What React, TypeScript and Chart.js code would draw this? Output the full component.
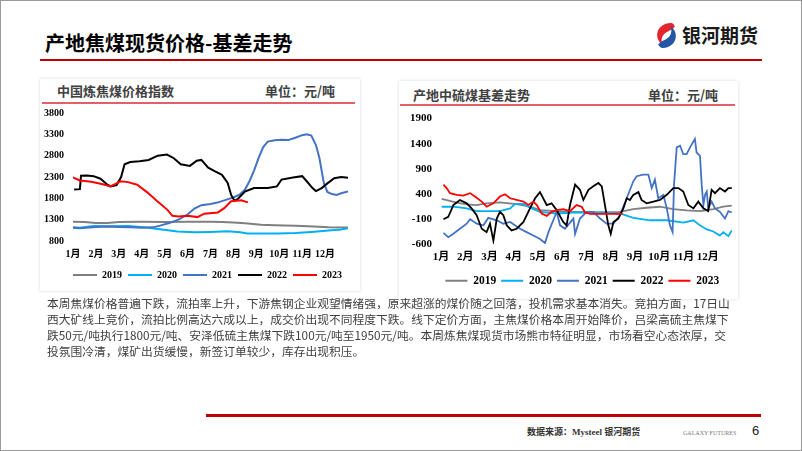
import React, { useEffect, useRef } from "react";
import { Chart, registerables } from "chart.js";

Chart.register(...registerables);

type P = [number, number];

// ---------- data ----------
const yearLabels = ["2019", "2020", "2021", "2022", "2023"];
const monthNumbers = [1, 2, 3, 4, 5, 6, 7, 8, 9, 10, 11, 12];

// 中国炼焦煤价格指数 (x = month position, y = 元/吨)
const idx2019: P[] = [[1,1250],[1.5,1245],[2,1222],[2.5,1222],[3,1248],[4,1252],[5,1245],[6,1250],[7,1250],[7.5,1245],[8,1235],[8.5,1215],[9.2,1180],[9.8,1168],[10.7,1155],[11.5,1138],[12.15,1122],[13,1115]];
const idx2020: P[] = [[1,1122],[1.3,1110],[1.9,1150],[2.5,1148],[3.4,1152],[4.1,1122],[4.8,1075],[5.56,1020],[6.3,1005],[7,1012],[7.75,1028],[8.3,1005],[8.6,976],[9.95,976],[10.7,990],[11.4,1012],[12.15,1044],[12.7,1068],[13,1100]];
const idx2021: P[] = [[1,1110],[1.3,1100],[2,1130],[2.5,1140],[3,1130],[3.5,1120],[4,1110],[4.5,1120],[4.8,1160],[5.2,1220],[5.6,1300],[6,1420],[6.3,1560],[6.6,1640],[7,1665],[7.3,1700],[7.7,1770],[8,1820],[8.3,1900],[8.5,2000],[8.7,2200],[8.9,2450],[9.1,2750],[9.3,3000],[9.5,3130],[9.8,3160],[10.1,3175],[10.4,3165],[10.7,3220],[11,3280],[11.2,3300],[11.4,3270],[11.6,3050],[11.75,2750],[11.85,2450],[11.95,2150],[12.1,1950],[12.3,1900],[12.5,1880],[12.7,1920],[13,1960]];
const idx2022: P[] = [[1.05,2005],[1.3,2015],[1.35,2330],[1.6,2335],[1.9,2320],[2.2,2260],[2.5,2120],[2.65,2080],[2.9,2110],[3.1,2300],[3.25,2600],[3.5,2650],[3.9,2670],[4.3,2700],[4.7,2800],[5.1,2825],[5.4,2740],[5.7,2600],[6.1,2560],[6.4,2680],[6.6,2700],[6.9,2520],[7.2,2430],[7.5,2350],[7.75,2160],[7.9,1880],[8.05,1740],[8.2,1790],[8.5,1960],[8.9,2040],[9.5,2040],[9.9,2080],[10.1,2240],[10.6,2290],[11,2320],[11.2,2200],[11.45,2040],[11.6,1970],[11.85,2040],[12.1,2150],[12.4,2270],[12.7,2300],[13,2280]];
const idx2023: P[] = [[1,2290],[1.3,2220],[1.8,2190],[2.3,2130],[2.63,2080],[2.9,2150],[3.07,2200],[3.4,2180],[3.8,2120],[4.24,1940],[4.68,1730],[5.12,1530],[5.34,1390],[5.6,1375],[6,1390],[6.43,1360],[6.73,1440],[7.32,1470],[7.6,1570],[7.9,1730],[8.34,1755],[8.63,1705]];

// 产地中硫煤基差走势 (x = month position, y = 元/吨)
const basis2019: P[] = [[1.03,299],[1.65,224],[2.06,191],[2.47,177],[2.88,211],[3.43,231],[4.12,197],[4.67,143],[5.08,76],[5.77,55],[6.46,42],[7.14,28],[7.83,28],[8.38,42],[8.93,96],[9.48,123],[10.03,143],[10.58,96],[11.13,69],[11.68,55],[12.23,96],[12.64,143],[12.99,164]];
const basis2020: P[] = [[1.03,143],[1.51,143],[2.06,110],[2.47,55],[3.43,55],[3.85,110],[4.05,197],[4.4,197],[4.67,123],[5.08,42],[5.77,8],[6.46,28],[7.14,28],[7.83,28],[8.38,8],[8.93,-80],[9.62,-127],[10.31,-127],[11,-174],[11.41,-127],[11.68,-228],[11.96,-310],[12.23,-350],[12.5,-431],[12.64,-364],[12.85,-445],[12.99,-330]];
const basis2021: P[] = [[1.1,-377],[1.3,-465],[1.51,-397],[1.78,-296],[2.06,-195],[2.2,-107],[2.47,-195],[2.75,-228],[2.95,-80],[3.3,-127],[3.57,-195],[3.85,-161],[4.26,-296],[4.53,-364],[4.81,-431],[5.08,-499],[5.29,-580],[5.43,-364],[5.63,-127],[5.77,42],[5.91,-228],[6.11,-296],[6.46,-93],[6.53,-397],[6.73,-93],[7.01,42],[7.28,42],[7.56,-93],[7.83,-195],[8.11,-195],[8.38,-26],[8.66,312],[8.93,650],[9.07,751],[9.34,785],[9.55,785],[9.69,515],[9.82,684],[9.96,312],[10.17,380],[10.31,110],[10.44,-228],[10.55,-364],[10.61,583],[10.72,1326],[10.86,1360],[10.99,1190],[11.13,1190],[11.27,1326],[11.47,1495],[11.54,1224],[11.68,1157],[11.75,583],[11.82,177],[11.89,380],[11.96,447],[12.02,110],[12.16,245],[12.3,110],[12.5,42],[12.71,-93],[12.85,55],[12.99,28]];
const basis2022: P[] = [[1.1,-107],[1.3,-59],[1.51,177],[1.78,278],[2.06,211],[2.26,110],[2.47,-26],[2.68,-296],[2.88,-364],[3.02,-195],[3.16,-532],[3.3,-93],[3.43,42],[3.57,-26],[3.71,-228],[3.91,-330],[4.12,-296],[4.4,-161],[4.67,110],[4.88,312],[5.08,434],[5.36,177],[5.56,211],[5.77,76],[6.04,-161],[6.18,-228],[6.32,177],[6.53,583],[6.73,481],[6.87,278],[7.08,481],[7.28,549],[7.49,616],[7.63,549],[7.76,177],[7.9,-228],[8,-397],[8.11,-161],[8.31,-93],[8.52,110],[8.66,312],[8.79,278],[8.93,380],[9.14,434],[9.27,278],[9.48,211],[9.76,245],[10.03,278],[10.31,380],[10.58,515],[10.79,515],[10.99,447],[11.2,177],[11.41,110],[11.61,245],[11.82,110],[12.02,55],[12.16,481],[12.3,414],[12.5,515],[12.71,447],[12.85,515],[12.99,515]];
const basis2023: P[] = [[1.1,583],[1.23,515],[1.37,414],[1.65,380],[1.92,366],[2.2,414],[2.4,346],[2.68,245],[2.88,143],[3.16,211],[3.43,346],[3.64,393],[3.85,312],[4.12,278],[4.4,245],[4.6,177],[4.81,245],[4.95,177],[5.15,8],[5.36,-39],[5.56,42],[5.77,76],[6.04,96],[6.32,55],[6.59,177],[6.8,143],[6.94,28],[7.14,1],[8.49,1]];

const indexSeries = [idx2019, idx2020, idx2021, idx2022, idx2023];
const basisSeries = [basis2019, basis2020, basis2021, basis2022, basis2023];

// ---------- styles ----------
const lineColors = ["#7f7f7f", "#00b0f0", "#4472c4", "#000000", "#ff0000"];
const CJK = '"Noto Sans CJK SC", "Noto Sans", sans-serif';
const SERIF = '"Liberation Serif", "Noto Sans CJK SC", serif';

type Cfg = {
  left: number; top: number; w: number; h: number;
  pad: { left: number; right: number; top: number; bottom: number };
  yMin: number; yMax: number; yWidth: number; xHeight: number;
  tickSize: number; legendSize: number; legendBox: number; legendPad: number;
  legendShift: number; lineWidth: number;
};

// shifts the legend horizontally after layout (the slide's legend is not centred on the canvas)
const legendShiftPlugin = {
  id: "legendShift",
  afterLayout(chart: any, _args: any, opts: any) {
    const lg = chart.legend;
    if (!lg || !opts || !opts.dx) return;
    lg.left += opts.dx;
    lg.right += opts.dx;
  },
};

function LineChart({ series, cfg }: { series: P[][]; cfg: Cfg }) {
  const ref = useRef<HTMLCanvasElement>(null);
  useEffect(() => {
    const tickFont = { family: SERIF, weight: "bold" as const, size: cfg.tickSize };
    const chart = new Chart(ref.current!, {
      type: "line",
      plugins: [legendShiftPlugin],
      data: {
        datasets: series.map((s, i) => ({
          label: yearLabels[i],
          data: s.map(([x, y]) => ({ x, y })),
          borderColor: lineColors[i],
          backgroundColor: lineColors[i],
          borderWidth: cfg.lineWidth,
          pointRadius: 0,
          tension: 0,
          fill: false,
          order: series.length - i,
        })),
      },
      options: {
        animation: false,
        responsive: false,
        layout: { padding: cfg.pad },
        plugins: {
          tooltip: { enabled: false },
          legendShift: { dx: cfg.legendShift },
          legend: {
            position: "bottom",
            labels: {
              usePointStyle: true,
              pointStyle: "line",
              pointStyleWidth: cfg.legendBox,
              padding: cfg.legendPad,
              color: "#000",
              font: { family: SERIF, weight: "bold", size: cfg.legendSize },
              sort: (a: any, b: any) => a.datasetIndex - b.datasetIndex,
            },
          },
        } as any,
        scales: {
          x: {
            type: "linear",
            min: 1,
            max: 13,
            grid: { display: false, drawTicks: false },
            border: { display: false },
            afterFit: (s: any) => { s.height = cfg.xHeight; },
            afterBuildTicks: (s: any) => {
              s.ticks = monthNumbers.map((m) => ({ value: m })).concat([{ value: 13 }]);
            },
            ticks: {
              autoSkip: false,
              maxRotation: 0,
              padding: 7,
              color: "#000",
              font: tickFont,
              callback: (v: any) => (monthNumbers.includes(Number(v)) ? `${v}月` : ""),
            },
          },
          y: {
            min: cfg.yMin,
            max: cfg.yMax,
            grid: { display: false, drawTicks: false },
            border: { display: false },
            afterFit: (s: any) => { s.width = cfg.yWidth; },
            ticks: {
              stepSize: 500,
              padding: 9,
              color: "#000",
              font: tickFont,
              callback: (v: any) => String(v),
            },
          },
        },
      },
    });
    return () => chart.destroy();
  }, []);
  return (
    <canvas
      ref={ref}
      width={cfg.w}
      height={cfg.h}
      style={{ position: "absolute", left: cfg.left, top: cfg.top, width: cfg.w, height: cfg.h }}
    />
  );
}

const leftCfg: Cfg = {
  left: 40, top: 98, w: 320, h: 192,
  pad: { left: 0, right: 12, top: 0, bottom: 0 },
  yMin: 800, yMax: 3800, yWidth: 33, xHeight: 23,
  tickSize: 10, legendSize: 10, legendBox: 24, legendPad: 6, legendShift: 13.5, lineWidth: 2,
};

const rightCfg: Cfg = {
  left: 398, top: 103, w: 345, h: 195,
  pad: { left: 0, right: 11, top: 0, bottom: 1.5 },
  yMin: -600, yMax: 1900, yWidth: 43, xHeight: 26,
  tickSize: 11, legendSize: 11.5, legendBox: 22, legendPad: 5, legendShift: 17.3, lineWidth: 1.8,
};

function Logo() {
  return (
    <div style={{ position: "absolute", left: 654, top: 20, height: 30, display: "flex", alignItems: "center" }}>
      <svg width="25" height="29" viewBox="0 0 24 28">
        <path d="M17 2 C9 1.5 2.5 7 3 14.5 C3.3 18.5 5.5 21.5 8.5 23 C6 18.5 7.5 13 12.5 10.5 C15 9.3 18 8 20 5.5 C19.5 3.8 18.5 2.5 17 2 Z" fill="#e3262d" />
        <path d="M7.5 26 C15 26.5 21.5 21 21 13.5 C20.7 9.5 18.5 6.5 15.5 5 C18 9.5 16.5 15 11.5 17.5 C9 18.7 6 20 4 22.5 C4.5 24.2 5.8 25.5 7.5 26 Z" fill="#2456a6" />
      </svg>
      <div style={{ marginLeft: 3, fontFamily: CJK, fontSize: 19, fontWeight: 700, color: "#1a1a1a", lineHeight: "24px" }}>银河期货</div>
    </div>
  );
}

const paragraphLines = [
  "本周焦煤价格普遍下跌，流拍率上升，下游焦钢企业观望情绪强，原来超涨的煤价随之回落，投机需求基本消失。竞拍方面，17日山",
  "西大矿线上竞价，流拍比例高达六成以上，成交价出现不同程度下跌。线下定价方面，主焦煤价格本周开始降价，吕梁高硫主焦煤下",
  "跌50元/吨执行1800元/吨、安泽低硫主焦煤下跌100元/吨至1950元/吨。本周炼焦煤现货市场熊市特征明显，市场看空心态浓厚，交",
  "投氛围冷清，煤矿出货缓慢，新签订单较少，库存出现积压。",
];

export default function App() {
  const abs = (s: React.CSSProperties): React.CSSProperties => ({ position: "absolute", ...s });
  return (
    <div
      style={{
        position: "fixed", left: 0, top: 0, width: 802, height: 451, background: "#fff",
        overflow: "hidden", boxSizing: "border-box", border: "1px solid #9a9a9a",
      }}
    >
      <div style={{ position: "absolute", left: -1, top: -1, width: 802, height: 451 }}>
        {/* header */}
        <div style={abs({ left: 45, top: 31, fontFamily: CJK, fontSize: 20, fontWeight: 700, color: "#000", lineHeight: "24px", whiteSpace: "nowrap" })}>
          产地焦煤现货价格-基差走势
        </div>
        <Logo />
        <div style={abs({ left: 40, top: 58.5, width: 722, height: 2.5, background: "#c00000" })} />

        {/* panels */}
        <div style={abs({ left: 40, top: 79, width: 320, height: 212, background: "#fff", boxShadow: "0 0 3px rgba(0,0,0,0.16)" })} />
        <div style={abs({ left: 399, top: 81, width: 339, height: 218, background: "#fff", boxShadow: "0 0 3px rgba(0,0,0,0.16)" })} />

        <div style={abs({ left: 57, top: 83, fontFamily: CJK, fontSize: 13, fontWeight: 700, color: "#404040", lineHeight: "16px", whiteSpace: "nowrap" })}>中国炼焦煤价格指数</div>
        <div style={abs({ left: 265, top: 83, fontFamily: CJK, fontSize: 13, fontWeight: 700, color: "#404040", lineHeight: "16px", whiteSpace: "nowrap" })}>单位：元/吨</div>
        <div style={abs({ left: 42, top: 102, width: 313, height: 1.5, background: "#e2606a" })} />

        <div style={abs({ left: 413, top: 87, fontFamily: CJK, fontSize: 13, fontWeight: 700, color: "#404040", lineHeight: "16px", whiteSpace: "nowrap" })}>产地中硫煤基差走势</div>
        <div style={abs({ left: 648, top: 87, fontFamily: CJK, fontSize: 13, fontWeight: 700, color: "#404040", lineHeight: "16px", whiteSpace: "nowrap" })}>单位：元/吨</div>
        <div style={abs({ left: 400, top: 104, width: 335, height: 1.5, background: "#e2606a" })} />

        <LineChart series={indexSeries} cfg={leftCfg} />
        <LineChart series={basisSeries} cfg={rightCfg} />

        {/* commentary */}
        <div style={abs({ left: 47, top: 295, fontFamily: CJK, fontSize: 11.75, color: "#404040", lineHeight: "16px", whiteSpace: "nowrap" })}>
          {paragraphLines.map((l, i) => (<div key={i}>{l}</div>))}
        </div>

        {/* footer */}
        <div style={abs({ left: 206, top: 413.5, width: 555, height: 3, background: "#c00000" })} />
        <div style={abs({ left: 527, top: 426, fontFamily: SERIF, fontSize: 9, fontWeight: 700, color: "#333", lineHeight: "12px", whiteSpace: "nowrap" })}>数据来源：Mysteel 银河期货</div>
        <div style={abs({ left: 683, top: 429, fontFamily: SERIF, fontSize: 6, color: "#777", lineHeight: "8px", whiteSpace: "nowrap" })}>GALAXY FUTURES</div>
        <div style={abs({ left: 752, top: 423, fontFamily: '"Liberation Sans", sans-serif', fontSize: 13, color: "#222", lineHeight: "16px" })}>6</div>
      </div>
    </div>
  );
}
